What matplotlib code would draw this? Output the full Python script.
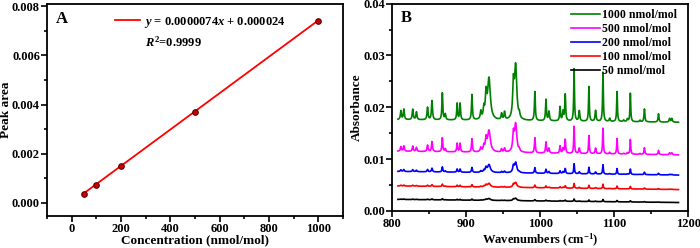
import numpy as np
import matplotlib
matplotlib.use("Agg")
import matplotlib.pyplot as plt
from matplotlib.ticker import MultipleLocator

plt.rcParams['font.family'] = 'Liberation Serif'
plt.rcParams['font.weight'] = 'bold'
plt.rcParams['mathtext.fontset'] = 'custom'
plt.rcParams['mathtext.rm'] = 'Liberation Serif:bold'
plt.rcParams['mathtext.it'] = 'Liberation Serif:italic:bold'
plt.rcParams['mathtext.bf'] = 'Liberation Serif:bold'

# ---- panel A: calibration ----
conc = [50, 100, 200, 500, 1000]
peak_area = [0.00037, 0.00075, 0.00152, 0.00371, 0.00738]
slope = 0.0000074
intercept = 0.000024

# ---- panel B: spectra (peak list) ----
peak_pos = [812, 816, 828, 833, 848, 854, 868, 872, 888, 892, 908, 920, 924,
            927, 931, 948, 952, 964, 967, 972, 993, 1008, 1012, 1027, 1031,
            1034, 1046, 1053, 1066, 1075, 1085, 1094, 1104, 1113, 1118, 1122,
            1135, 1141, 1160, 1175, 1178]
peak_height = [0.0017, 0.0020, 0.0020, 0.0015, 0.0024, 0.0037, 0.0052, 0.0011,
               0.0032, 0.0032, 0.0049, 0.0015, 0.0020, 0.0045, 0.0080, 0.0012,
               0.0015, 0.0062, 0.0104, 0.0008, 0.0056, 0.0041, 0.0018, 0.0027,
               0.0018, 0.0051, 0.0101, 0.0020, 0.0067, 0.0021, 0.0095, 0.0006,
               0.0058, 0.0003, 0.0005, 0.0055, 0.0003, 0.0025, 0.0016, 0.0007,
               0.0007]
peak_width = [0.8, 0.8, 0.8, 0.8, 0.8, 0.8, 0.7, 0.8, 0.7, 0.7, 0.7, 0.9, 0.9,
              1.1, 2.2, 0.8, 0.8, 1.1, 1.8, 0.8, 0.7, 0.7, 0.8, 0.7, 0.8,
              0.7, 0.6, 0.8, 0.6, 0.8, 0.6, 0.8, 0.6, 0.8, 0.8, 0.6, 0.8,
              0.7, 0.7, 0.8, 0.8]

series_labels = ['1000 nmol/mol', '500 nmol/mol', '200 nmol/mol',
                 '100 nmol/mol', '50 nmol/mol']
series_colors = ['#008000', '#ff00ff', '#0000ff', '#ff0000', '#000000']
series_scale = [1.0, 0.52, 0.19, 0.09, 0.045]
baseline_start = [0.0176, 0.0115, 0.0076, 0.0048, 0.0022]
baseline_end = [0.0171, 0.0108, 0.0069, 0.0041, 0.0016]
wn_start, wn_end = 808, 1187

fig = plt.figure(figsize=(7.0, 2.48), dpi=100)
axA = fig.add_axes([0.067, 0.13, 0.423, 0.855])
axB = fig.add_axes([0.560, 0.15, 0.423, 0.835])

# Panel A
xfit = np.array([conc[0], conc[-1]])
axA.plot(xfit, slope * xfit + intercept, color='red', lw=1.3,
         label=r'$y$ = 0.0000074$x$ + 0.000024')
axA.plot(conc, peak_area, 'o', ms=4, mfc='#d00000', mec='#5a0000', mew=0.8)
axA.set_xlim(-100, 1100)
axA.set_ylim(-0.00052, 0.0081)
axA.xaxis.set_major_locator(MultipleLocator(200))
axA.xaxis.set_minor_locator(MultipleLocator(100))
axA.yaxis.set_major_locator(MultipleLocator(0.002))
axA.yaxis.set_minor_locator(MultipleLocator(0.001))
axA.yaxis.set_major_formatter(matplotlib.ticker.FormatStrFormatter('%.3f'))
axA.set_xlabel('Concentration (nmol/mol)', fontsize=9.5, fontweight='bold')
axA.set_ylabel('Peak area', fontsize=9.5, fontweight='bold')
axA.xaxis.set_label_coords(0.5, -0.088)
axA.yaxis.set_label_coords(-0.118, 0.5)
axA.legend(loc='upper left', bbox_to_anchor=(0.2, 0.99), frameon=False,
           borderaxespad=0.3, handlelength=2.0, handletextpad=0.35,
           prop={'size': 9, 'weight': 'bold'})
axA.text(0.33, 0.82, r'$R^2$=0.9999', transform=axA.transAxes, fontsize=9,
         fontweight='bold', va='center')
axA.text(0.03, 0.93, 'A', transform=axA.transAxes, fontsize=12,
         fontweight='bold', va='center')

# Panel B
wn = np.arange(wn_start, wn_end + 0.01, 0.2)
pos = np.array(peak_pos)[:, None]
hgt = np.array(peak_height)[:, None]
wid = np.array(peak_width)[:, None]
peaks = (hgt * wid**2 / ((wn[None, :] - pos)**2 + wid**2)).sum(axis=0)
for lab, col, sc, b0, b1 in zip(series_labels, series_colors, series_scale,
                                baseline_start, baseline_end):
    base = b0 + (b1 - b0) * (wn - wn_start) / (wn_end - wn_start)
    axB.plot(wn, base + sc * peaks, color=col, lw=1.2, label=lab)
axB.set_xlim(800, 1200)
axB.set_ylim(0, 0.04)
axB.xaxis.set_major_locator(MultipleLocator(100))
axB.xaxis.set_minor_locator(MultipleLocator(50))
axB.yaxis.set_major_locator(MultipleLocator(0.01))
axB.yaxis.set_minor_locator(MultipleLocator(0.005))
axB.yaxis.set_major_formatter(matplotlib.ticker.FormatStrFormatter('%.2f'))
axB.set_xlabel(r'Wavenumbers (cm$^{\mathbf{-1}}$)', fontsize=9, fontweight='bold')
axB.set_ylabel('Absorbance', fontsize=9.5, fontweight='bold')
axB.xaxis.set_label_coords(0.5, -0.1)
axB.yaxis.set_label_coords(-0.1, 0.5)
axB.legend(loc='upper right', bbox_to_anchor=(1.0, 1.025), frameon=False,
           handlelength=2.4, handletextpad=0.25, labelspacing=0.16,
           prop={'size': 8.5, 'weight': 'bold'})
axB.text(0.03, 0.93, 'B', transform=axB.transAxes, fontsize=12,
         fontweight='bold', va='center')

for ax in (axA, axB):
    for sp in ax.spines.values():
        sp.set_linewidth(1.3)
    ax.tick_params(which='both', direction='out', top=False, right=False,
                   width=1.2, labelsize=9, pad=1.0)
    ax.tick_params(which='major', length=4)
    ax.tick_params(which='minor', length=2)
    for t in ax.get_xticklabels() + ax.get_yticklabels():
        t.set_fontweight('bold')

fig.savefig('out.png', dpi=100)
